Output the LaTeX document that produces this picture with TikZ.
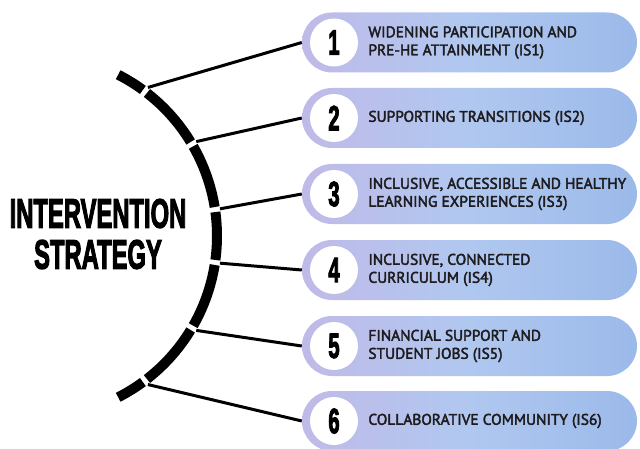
\documentclass[tikz,border=0pt]{standalone}
\usepackage{graphicx}
\usepackage{fontspec}
\setmainfont{PT Sans}[RawFeature={embolden=2.6}]
\newfontfamily\headfont{Liberation Sans}[UprightFont=* Bold,RawFeature={embolden=3.5}]
\usetikzlibrary{shapes.misc,positioning}
\definecolor{ringlav}{RGB}{192,186,232}
\definecolor{pillmid}{RGB}{176,200,240}
\definecolor{pillright}{RGB}{155,185,233}
\definecolor{inkblack}{RGB}{30,28,30}
\newcommand{\narrow}[1]{\scalebox{0.58}[1]{#1}}

\begin{document}
\begin{tikzpicture}[x=1pt,y=1pt,
 pill/.style={rounded rectangle,minimum width=335pt,minimum height=60pt,
 inner sep=0pt,left color=ringlav,right color=pillright,middle color=pillmid},
 numdisc/.style={circle,fill=white,minimum size=48pt,inner sep=0pt,
 font=\headfont\fontsize{35}{35}\selectfont},
 itemtext/.style={anchor=west,align=left,inner sep=0pt,text=inkblack,
 font=\fontsize{15.4}{18}\selectfont},
 seg/.style={line width=10pt},
 spoke/.style={line width=3pt}]
\useasboundingbox (0,0) rectangle (640,448);
\coordinate (c) at (36,212);
% split arc
\draw[seg] ([shift={(c)}]63:181pt) arc[start angle=63,end angle=53.8,radius=181pt];
\draw[seg] ([shift={(c)}]52.2:181pt) arc[start angle=52.2,end angle=31.3,radius=181pt];
\draw[seg] ([shift={(c)}]29.7:181pt) arc[start angle=29.7,end angle=9.2,radius=181pt];
\draw[seg] ([shift={(c)}]7.6:181pt) arc[start angle=7.6,end angle=-7.6,radius=181pt];
\draw[seg] ([shift={(c)}]-9.2:181pt) arc[start angle=-9.2,end angle=-29.7,radius=181pt];
\draw[seg] ([shift={(c)}]-31.3:181pt) arc[start angle=-31.3,end angle=-52.2,radius=181pt];
\draw[seg] ([shift={(c)}]-53.8:181pt) arc[start angle=-53.8,end angle=-63,radius=181pt];
\node[align=center,font=\headfont\fontsize{41}{41}\selectfont] (title) at (98,214)
 {\narrow{INTERVENTION}\\\narrow{STRATEGY}};
% the six strands
\node[pill] (p1) at (469.5,405.5) {};
\node[pill] (p2) at (469.5,330) {};
\node[pill] (p3) at (469.5,254) {};
\node[pill] (p4) at (469.5,178) {};
\node[pill] (p5) at (469.5,102) {};
\node[pill] (p6) at (469.5,27) {};
\node[numdisc,right=8pt of p1.west] (n1) {\narrow{1}};
\node[numdisc,right=8pt of p2.west] (n2) {\narrow{2}};
\node[numdisc,right=8pt of p3.west] (n3) {\narrow{3}};
\node[numdisc,right=8pt of p4.west] (n4) {\narrow{4}};
\node[numdisc,right=8pt of p5.west] (n5) {\narrow{5}};
\node[numdisc,right=8pt of p6.west] (n6) {\narrow{6}};
\node[itemtext,right=10pt of n1] (t1) {WIDENING PARTICIPATION AND\\PRE-HE ATTAINMENT (IS1)};
\node[itemtext,right=10pt of n2] (t2) {SUPPORTING TRANSITIONS (IS2)};
\node[itemtext,right=10pt of n3] (t3) {INCLUSIVE, ACCESSIBLE AND HEALTHY\\LEARNING EXPERIENCES (IS3)};
\node[itemtext,right=10pt of n4] (t4) {INCLUSIVE, CONNECTED\\CURRICULUM (IS4)};
\node[itemtext,right=10pt of n5] (t5) {FINANCIAL SUPPORT AND\\STUDENT JOBS (IS5)};
\node[itemtext,right=10pt of n6] (t6) {COLLABORATIVE COMMUNITY (IS6)};
\draw[spoke] ([shift={(c)}]53:186pt) -- (p1.west);
\draw[spoke] ([shift={(c)}]30.5:186pt) -- (p2.west);
\draw[spoke] ([shift={(c)}]8.4:186pt) -- (p3.west);
\draw[spoke] ([shift={(c)}]-8.4:186pt) -- (p4.west);
\draw[spoke] ([shift={(c)}]-30.5:186pt) -- (p5.west);
\draw[spoke] ([shift={(c)}]-53:186pt) -- (p6.west);
\end{tikzpicture}
\end{document}
